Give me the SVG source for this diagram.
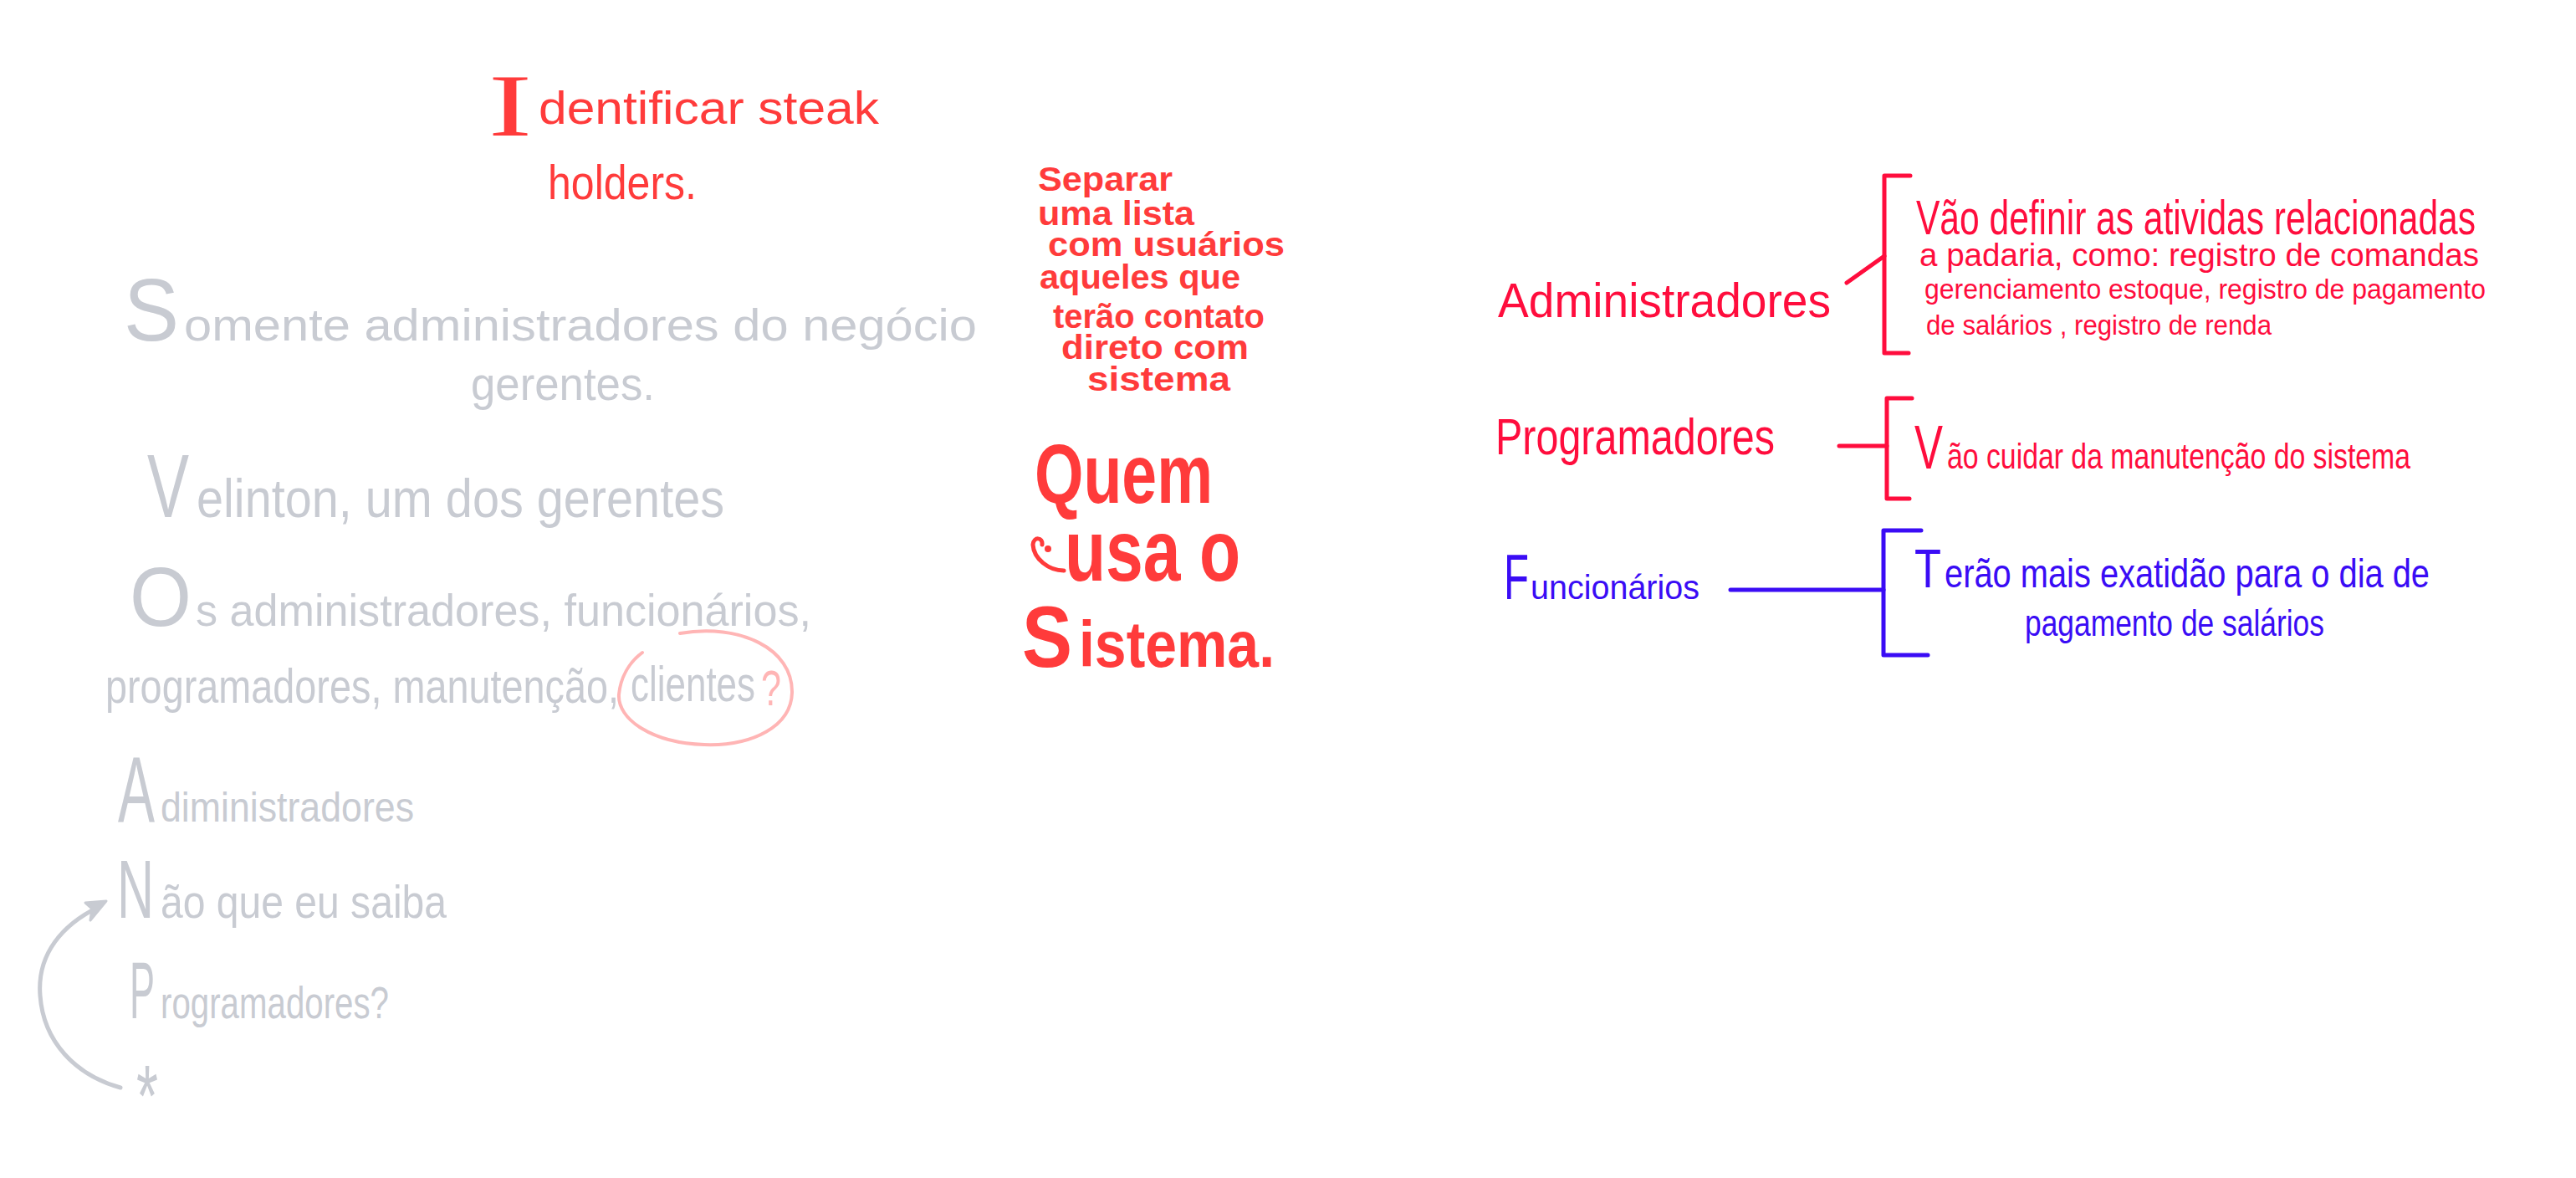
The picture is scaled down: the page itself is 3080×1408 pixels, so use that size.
<svg xmlns="http://www.w3.org/2000/svg" width="3080" height="1408" viewBox="0 0 3080 1408">
<style>
text{font-family:"Liberation Sans Narrow","Liberation Sans",Arial,sans-serif;}
.grey{fill:#c8cbd2;}
.red{fill:#ff3b3b;font-weight:bold;}
.crim{fill:#ff0d3d;}
.blue{fill:#3a0cf5;}
.pink{fill:#ffb5b5;}
.ln{fill:none;stroke-linecap:round;stroke-linejoin:round;}
</style>
<rect width="3080" height="1408" fill="#ffffff"/>

<g id="title">
<text class="red" style="font-weight:normal" y="162"><tspan x="584" font-size="106" style="font-family:'Liberation Serif','Times New Roman',serif" textLength="52" lengthAdjust="spacingAndGlyphs">I</tspan><tspan x="644" y="148" font-size="56" textLength="407" lengthAdjust="spacingAndGlyphs">dentificar steak</tspan></text>
<text class="red" style="font-weight:normal" x="655" y="238" font-size="58" textLength="178" lengthAdjust="spacingAndGlyphs">holders.</text>
</g>

<g id="notes-left">
<text class="grey" y="407"><tspan x="148" font-size="106" textLength="66" lengthAdjust="spacingAndGlyphs">S</tspan><tspan x="220" font-size="54" textLength="948" lengthAdjust="spacingAndGlyphs">omente administradores do negócio</tspan></text>
<text class="grey" x="563" y="478" font-size="56" textLength="220" lengthAdjust="spacingAndGlyphs">gerentes.</text>
<text class="grey" y="618"><tspan x="176" font-size="108" textLength="50" lengthAdjust="spacingAndGlyphs">V</tspan><tspan x="235" font-size="64" textLength="631" lengthAdjust="spacingAndGlyphs">elinton, um dos gerentes</tspan></text>
<text class="grey" y="748"><tspan x="155" font-size="100" textLength="74" lengthAdjust="spacingAndGlyphs">O</tspan><tspan x="234" font-size="54" textLength="736" lengthAdjust="spacingAndGlyphs">s administradores, funcionários,</tspan></text>
<text class="grey" x="126" y="840" font-size="58" textLength="614" lengthAdjust="spacingAndGlyphs">programadores, manutenção,</text>
<text class="grey" y="838"><tspan x="754" font-size="60" textLength="149" lengthAdjust="spacingAndGlyphs">clientes</tspan><tspan class="pink" x="910" y="843" font-size="60" textLength="24" lengthAdjust="spacingAndGlyphs">?</tspan></text>
<text class="grey" y="982"><tspan x="141" font-size="112" textLength="44" lengthAdjust="spacingAndGlyphs">A</tspan><tspan x="192" font-size="50" textLength="303" lengthAdjust="spacingAndGlyphs">diministradores</tspan></text>
<text class="grey" y="1097"><tspan x="140" font-size="98" textLength="44" lengthAdjust="spacingAndGlyphs">N</tspan><tspan x="192" font-size="56" textLength="342" lengthAdjust="spacingAndGlyphs">ão que eu saiba</tspan></text>
<text class="grey" y="1217"><tspan x="155" font-size="96" textLength="30" lengthAdjust="spacingAndGlyphs">P</tspan><tspan x="192" font-size="54" textLength="273" lengthAdjust="spacingAndGlyphs">rogramadores?</tspan></text>
<text class="grey" x="163" y="1346" font-size="104" textLength="26" lengthAdjust="spacingAndGlyphs">*</text>
</g>

<g id="quem-usa">
<text class="red" font-size="40" x="1241" y="228" textLength="161" lengthAdjust="spacingAndGlyphs">Separar</text>
<text class="red" font-size="40" x="1241" y="269" textLength="187" lengthAdjust="spacingAndGlyphs">uma lista</text>
<text class="red" font-size="40" x="1253" y="306" textLength="283" lengthAdjust="spacingAndGlyphs">com usuários</text>
<text class="red" font-size="40" x="1243" y="345" textLength="240" lengthAdjust="spacingAndGlyphs">aqueles que</text>
<text class="red" font-size="40" x="1259" y="392" textLength="253" lengthAdjust="spacingAndGlyphs">terão contato</text>
<text class="red" font-size="40" x="1269" y="429" textLength="224" lengthAdjust="spacingAndGlyphs">direto com</text>
<text class="red" font-size="40" x="1300" y="467" textLength="171" lengthAdjust="spacingAndGlyphs">sistema</text>
<text class="red" font-size="100" x="1237" y="601" textLength="213" lengthAdjust="spacingAndGlyphs">Quem</text>
<text class="red" font-size="104" x="1273" y="694" textLength="210" lengthAdjust="spacingAndGlyphs">usa o</text>
<text class="red" y="797"><tspan x="1222" font-size="104" textLength="60" lengthAdjust="spacingAndGlyphs">S</tspan><tspan x="1290" font-size="78" textLength="234" lengthAdjust="spacingAndGlyphs">istema.</tspan></text>
<path class="ln" d="M1246 651 C1247 642 1236 641 1235 651 C1236 668 1254 682 1272 682" stroke="#ff3b3b" stroke-width="5"/>
<circle cx="1253" cy="656" r="4" fill="#ff3b3b"/>
</g>

<g id="administradores">
<text class="crim" x="1791" y="379" font-size="58" textLength="398" lengthAdjust="spacingAndGlyphs">Administradores</text>
</g>
<g id="admin-desc">
<text class="crim" x="2291" y="280" font-size="58" textLength="669" lengthAdjust="spacingAndGlyphs">Vão definir as atividas relacionadas</text>
<text class="crim" x="2295" y="318" font-size="38" textLength="669" lengthAdjust="spacingAndGlyphs">a padaria, como: registro de comandas</text>
<text class="crim" x="2301" y="357" font-size="34" textLength="671" lengthAdjust="spacingAndGlyphs">gerenciamento estoque, registro de pagamento</text>
<text class="crim" x="2303" y="400" font-size="34" textLength="413" lengthAdjust="spacingAndGlyphs">de salários , registro de renda</text>
</g>

<g id="programadores">
<text class="crim" x="1788" y="543" font-size="62" textLength="334" lengthAdjust="spacingAndGlyphs">Programadores</text>
</g>
<g id="prog-desc">
<text class="crim" y="560"><tspan x="2289" font-size="74" textLength="34" lengthAdjust="spacingAndGlyphs">V</tspan><tspan x="2328" font-size="42" textLength="554" lengthAdjust="spacingAndGlyphs">ão cuidar da manutenção do sistema</tspan></text>
</g>

<g id="funcionarios">
<text class="blue" y="716"><tspan x="1798" font-size="76" textLength="30" lengthAdjust="spacingAndGlyphs">F</tspan><tspan x="1830" font-size="40" textLength="202" lengthAdjust="spacingAndGlyphs">uncionários</tspan></text>
</g>
<g id="func-desc">
<text class="blue" y="702"><tspan x="2289" font-size="64" textLength="32" lengthAdjust="spacingAndGlyphs">T</tspan><tspan x="2325" font-size="48" textLength="580" lengthAdjust="spacingAndGlyphs">erão mais exatidão para o dia de</tspan></text>
<text class="blue" x="2421" y="760" font-size="44" textLength="358" lengthAdjust="spacingAndGlyphs">pagamento de salários</text>
</g>

<g id="connectors">
<path class="ln" d="M2284 210 L2253 210 L2253 422 L2282 422" stroke="#ff0d3d" stroke-width="5"/>
<path class="ln" d="M2208 338 L2253 306" stroke="#ff0d3d" stroke-width="5"/>
<path class="ln" d="M2286 476 L2256 476 L2256 596 L2283 596" stroke="#ff0d3d" stroke-width="5"/>
<path class="ln" d="M2199 533 L2256 533" stroke="#ff0d3d" stroke-width="5"/>
<path class="ln" d="M2297 634 L2252 634 L2252 783 L2305 783" stroke="#3a0cf5" stroke-width="5"/>
<path class="ln" d="M2069 705 L2252 705" stroke="#3a0cf5" stroke-width="5"/>
<path class="ln" d="M144 1300 C90 1285 52 1245 48 1190 C44 1140 75 1105 118 1084" stroke="#c8cbd2" stroke-width="5"/>
<path d="M127 1077 L102 1079 L110 1086 L108 1100 Z" fill="#c8cbd2" stroke="#c8cbd2" stroke-width="3" stroke-linejoin="round"/>
<path class="ln" d="M813 757 C885 745 948 775 947 828 C946 868 900 892 842 890 C780 888 738 860 740 830 C742 810 752 792 768 780" stroke="#ffb5b5" stroke-width="4"/>
</g>
</svg>
